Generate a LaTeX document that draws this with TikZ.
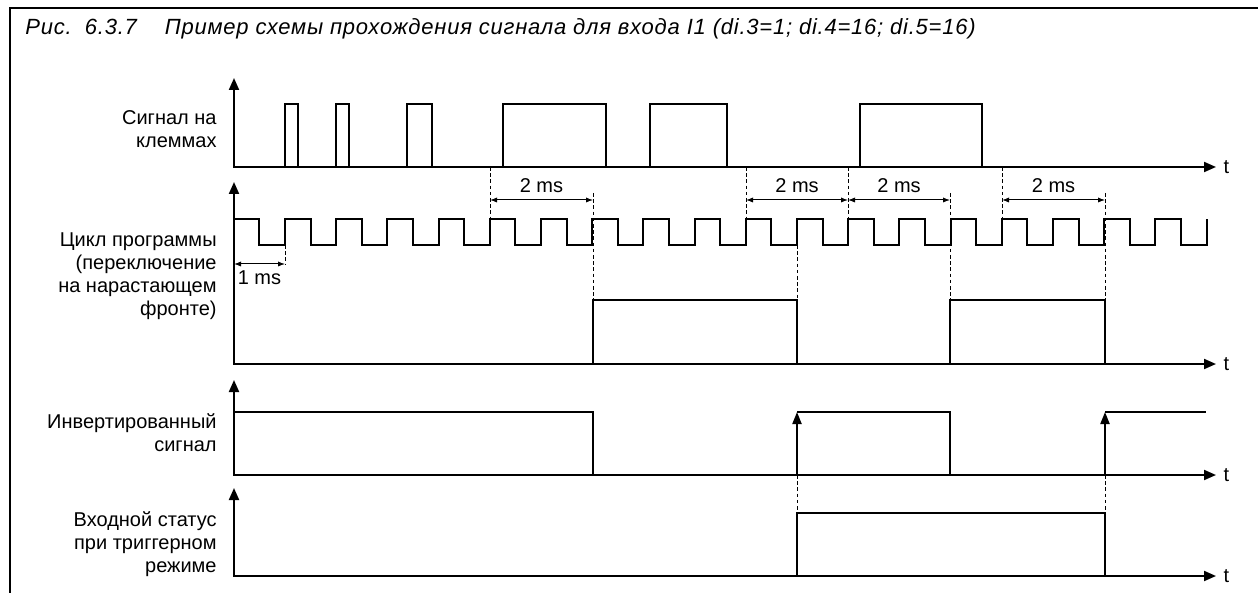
\documentclass[tikz,border=0pt]{standalone}
\usepackage{fontspec}
\setmainfont{Liberation Sans}
\usetikzlibrary{
    arrows.meta,
    positioning
}

\begin{document}
\begin{tikzpicture}[
    x=0.5pt, y=-0.5pt,
    >={Triangle[length=6pt,width=5pt]},
    signal/.style={line width=1pt, line join=miter},
    guide/.style={line width=0.4pt, dash pattern=on 1.8pt off 1.3pt},
    dimline/.style={line width=0.5pt, {Latex[length=3.5pt,width=2.6pt]}-{Latex[length=3.5pt,width=2.6pt]}},
    edgearrow/.style={line width=1pt, -{Triangle[length=6pt,width=4.5pt]}},
    rowlabel/.style={align=right, anchor=east, inner sep=0pt, font=\fontsize{10}{11.5}\selectfont}
]

\useasboundingbox (0,0) rectangle (1258,593);

\draw[line width=1pt] (10,593) -- (10,8) -- (1258,8);
\node[anchor=base west, inner sep=0pt,
      font=\fontsize{11}{13}\selectfont\itshape\addfontfeatures{LetterSpace=3.5}] (title) at (25,35)
    {Рис.\hspace{2pt} 6.3.7\hspace{14pt}Пример схемы прохождения сигнала для входа I1 (di.3=1; di.4=16; di.5=16)};

% axes
\draw[signal, <->] (234,78) -- (234,167) -- (1216,167) node[right] (t1) {t};
\draw[signal, <->] (234,182) -- (234,364) -- (1216,364) node[right] (t2) {t};
\draw[signal, <->] (234,380) -- (234,475) -- (1216,475) node[right] (t3) {t};
\draw[signal, <->] (234,488) -- (234,576) -- (1216,576) node[right] (t4) {t};

\node[rowlabel] (terminals) at (217,129.5) {Сигнал на\\клеммах};
\node[rowlabel] (cycle) at (217,276.5) {Цикл программы\\(переключение\\на нарастающем\\фронте)};
\node[rowlabel] (inverted) at (217,433) {Инвертированный\\сигнал};
\node[rowlabel] (status) at (217,544.5) {Входной статус\\при триггерном\\режиме};

% signal on terminals
\foreach \a/\b in {285/298, 336/349, 407/432, 503/606, 650/727, 860/982}
    \draw[signal] (\a,167) |- (\b,104) -- (\b,167);

% program cycle, 1 ms
\draw[signal] (234,219)
    foreach \k in {0,...,18} {
        -- ({259.4+51.2*\k},219) -- ({259.4+51.2*\k},245)
        -- ({285+51.2*\k},245) -- ({285+51.2*\k},219)
    };

\draw[signal] (593,364) |- (797,300) -- (797,364);
\draw[signal] (950,364) |- (1105,300) -- (1105,364);

% inverted signal
\draw[signal] (234,412) -- (593,412) -- (593,475);
\draw[edgearrow] (797,475) -- (797,412);
\draw[signal] (797,412) -- (950,412) -- (950,475);
\draw[edgearrow] (1105,475) -- (1105,412);
\draw[signal] (1105,412) -- (1206,412);

% input status
\draw[signal] (797,576) |- (1105,513) -- (1105,576);

% guides
\foreach \x in {490, 746, 848, 1002}
    \draw[guide] (\x,167) -- (\x,219);
\foreach \x in {593, 950, 1105}
    \draw[guide] (\x,193) -- (\x,300);
\draw[guide] (285,245) -- (285,264);
\draw[guide] (797,245) -- (797,300);
\draw[guide] (797,475) -- (797,513);
\draw[guide] (1105,475) -- (1105,513);

\draw[dimline] (234,264) -- (285,264) node[midway, below] (onems) {1 ms};
\foreach \a/\b in {490/593, 746/848, 848/950, 1002/1105}
    \draw[dimline] (\a,200) -- (\b,200) node[midway, above] {2 ms};

\end{tikzpicture}
\end{document}
